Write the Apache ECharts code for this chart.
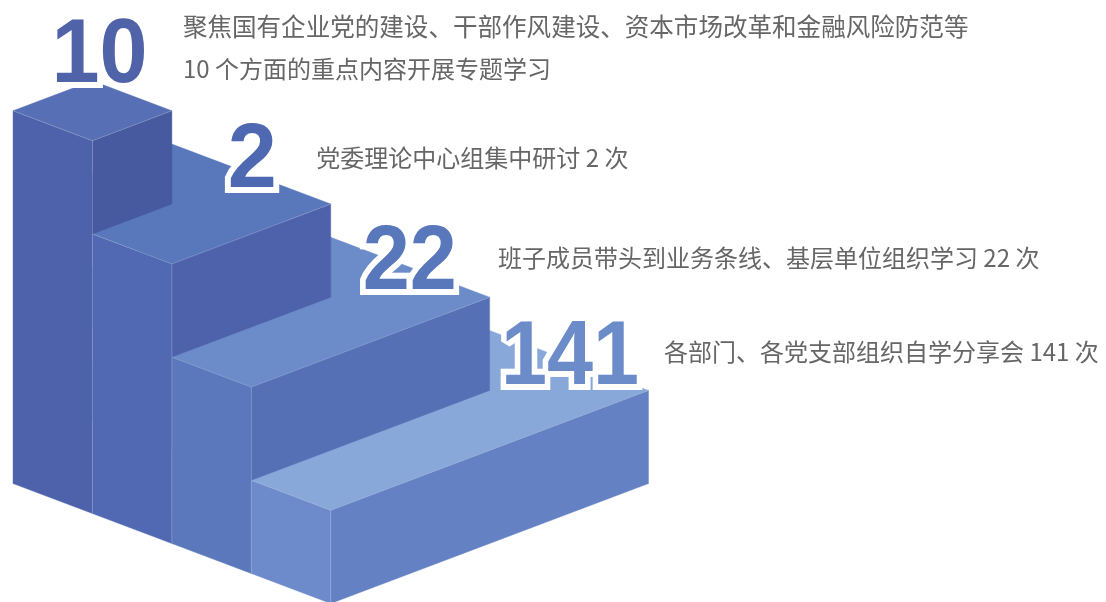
<!DOCTYPE html>
<html>
<head>
<meta charset="utf-8">
<style>
  html, body { margin: 0; padding: 0; background: #fff; }
  #main { width: 1106px; height: 602px; }
</style>
<script src="https://cdn.jsdelivr.net/npm/echarts@6/dist/echarts.min.js"></script>
</head>
<body>
<div id="main"></div>
<script>
// Datos de cada escalon
const stepNumbers = ['10', '2', '22', '141'];
const stepTexts = [
    ['聚焦国有企业党的建设、干部作风建设、资本市场改革和金融风险防范等', '10 个方面的重点内容开展专题学习'],
    ['党委理论中心组集中研讨 2 次'],
    ['班子成员带头到业务条线、基层单位组织学习 22 次'],
    ['各部门、各党支部组织自学分享会 141 次']
];
const stepHeights = [4, 3, 2, 1];
const stepWidths = [1, 2, 3, 4];

// Colores: cara izquierda, cara derecha, cara superior, numero
const leftColors = ['#4E62AC', '#5069B2', '#5A78BB', '#6D8BCA'];
const rightColors = ['#47599F', '#4E62AC', '#5670B6', '#6381C3'];
const topColors = ['#566FB5', '#5878BB', '#6C8BC9', '#87A8D8'];
const numberColors = ['#5063A9', '#4E68B1', '#5878BB', '#6C8BC9'];

// Desplazamientos en px respecto a la esquina trasera del escalon
const numberOffsets = [[7, -24], [1, -12], [-0.5, -3.4], [1, -1.7]];
const numberScaleX = [0.96, 0.98, 0.94, 0.92];
const textOffsets = [[90.5, -54], [65, -16.1], [87.8, -9.4], [95, -8.7]];
const TEXT_LINE_HEIGHT = 42;
const NUMBER_FONT = 'bold 90px "Liberation Sans", Arial, sans-serif';
// La primera linea del primer escalon va un poco mas ancha en el original
const textFontSizes = [[24.56, 24], [24], [24], [24]];

// Proyeccion isometrica: a = fondo, b = ancho, z = altura
const SLOPE = 0.3215;
function project(api, a, b, z) {
    return api.coord([a + b, z + (b - a) * SLOPE]);
}

function polygon(points, fill) {
    return {
        type: 'polygon',
        shape: { points: points },
        style: { fill: fill, stroke: fill, lineWidth: 0.4 }
    };
}

function edge(points) {
    return {
        type: 'polyline',
        shape: { points: points },
        style: { fill: 'none', stroke: 'rgba(255,255,255,0.22)', lineWidth: 1 }
    };
}

// Cada escalon es una caja que llega hasta el fondo; se pinta de la mas ancha a la mas alta
function renderStep(params, api) {
    const i = api.value(0);
    const w = api.value(1);
    const h = api.value(2);
    const a0 = i, a1 = i + 1;
    const base = i + 1 < stepHeights.length ? stepHeights[i + 1] : 0;

    const p = (a, b, z) => project(api, a, b, z);
    return {
        type: 'group',
        children: [
            polygon([p(0, w, h), p(a1, w, h), p(a1, 0, h), p(0, 0, h)], topColors[i]),
            polygon([p(a0, 0, h), p(a1, 0, h), p(a1, 0, 0), p(a0, 0, 0)], leftColors[i]),
            polygon([p(a1, 0, h), p(a1, w, h), p(a1, w, base), p(a1, 0, base)], rightColors[i]),
            edge([p(a0, 0, h), p(a1, 0, h), p(a1, w, h)]),
            edge([p(a1, 0, h), p(a1, 0, 0)])
        ]
    };
}

function renderLabel(params, api) {
    const i = api.value(0);
    const corner = project(api, i, api.value(1), api.value(2));
    const numberPos = {
        x: corner[0] + numberOffsets[i][0],
        y: corner[1] + numberOffsets[i][1],
        scaleX: numberScaleX[i]
    };
    // Primero el contorno blanco y encima el relleno, para no comerse el grueso del numero
    const children = [
        {
            type: 'text',
            ...numberPos,
            style: {
                text: stepNumbers[i],
                fill: '#fff', stroke: '#fff', lineWidth: 12, lineJoin: 'round',
                font: NUMBER_FONT, textAlign: 'center', textVerticalAlign: 'middle'
            }
        },
        {
            type: 'text',
            ...numberPos,
            style: {
                text: stepNumbers[i],
                fill: numberColors[i],
                font: NUMBER_FONT, textAlign: 'center', textVerticalAlign: 'middle'
            }
        }
    ];
    stepTexts[i].forEach((line, j) => {
        children.push({
            type: 'text',
            style: {
                text: line,
                x: corner[0] + textOffsets[i][0],
                y: corner[1] + textOffsets[i][1] + j * TEXT_LINE_HEIGHT,
                fill: '#666',
                font: textFontSizes[i][j] + 'px "Noto Sans CJK SC", "Noto Sans", sans-serif',
                textAlign: 'left',
                textVerticalAlign: 'middle'
            }
        });
    });
    return { type: 'group', children: children };
}

const stepData = stepNumbers.map((n, i) => [i, stepWidths[i], stepHeights[i]]).reverse();
// La esquina trasera de cada escalon queda en (i, i + 1)
const labelData = stepNumbers.map((n, i) => [i, i + 1, stepHeights[i]]);

const chart = echarts.init(document.getElementById('main'));
chart.setOption({
    animation: false,
    backgroundColor: '#fff',
    grid: { left: 13, width: 635.5, top: 64.15, height: 538.3 },
    xAxis: { type: 'value', min: 0, max: 8, show: false },
    yAxis: { type: 'value', min: -1.27, max: 4.5, show: false },
    series: [
        { type: 'custom', renderItem: renderStep, data: stepData, clip: false, silent: true, z: 1 },
        { type: 'custom', renderItem: renderLabel, data: labelData, clip: false, silent: true, z: 2 }
    ]
});
</script>
</body>
</html>
